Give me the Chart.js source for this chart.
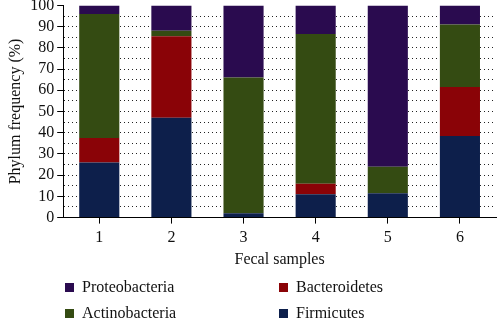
<!DOCTYPE html>
<html>
<head>
<meta charset="utf-8">
<script src="https://cdn.jsdelivr.net/npm/chart.js@4"></script>
<style>
  body { margin: 0; background: #fff; }
  #wrap { position: relative; width: 499px; height: 320px; }
  #legend { position: absolute; left: 0; top: 0; width: 499px; height: 320px; pointer-events: none;
    font-family: "Liberation Serif", serif; font-size: 16px; color: #111; }
  .item { position: absolute; height: 20px; line-height: 20px; white-space: nowrap; }
  .box { position: absolute; left: 0; top: 6px; width: 9px; height: 9px; }
  .txt { position: absolute; left: 17px; top: 0; }
</style>
</head>
<body>
<div id="wrap">
  <canvas id="myChart" width="499" height="320"></canvas>
  <div id="legend"></div>
</div>
<script>
const samples = ["1", "2", "3", "4", "5", "6"];
const firmicutes = [26, 47, 2, 11, 11.5, 38.5];
const bacteroidetes = [11.5, 38.5, 0, 5, 0, 23];
const actinobacteria = [58.5, 2.5, 64, 70.5, 12.5, 29.5];
const proteobacteria = [4, 12, 34, 13.5, 76, 9];

const colors = {
  Proteobacteria: "#2a0b4f",
  Bacteroidetes: "#8a0307",
  Actinobacteria: "#344b12",
  Firmicutes: "#0d1f4b",
};

const serif = '"Liberation Serif", serif';

var ctx = document.getElementById("myChart");
const myChart = new Chart(ctx, {
  type: "bar",
  data: {
    labels: samples,
    datasets: [
      { label: "Firmicutes", data: firmicutes, backgroundColor: colors.Firmicutes },
      { label: "Bacteroidetes", data: bacteroidetes, backgroundColor: colors.Bacteroidetes },
      { label: "Actinobacteria", data: actinobacteria, backgroundColor: colors.Actinobacteria },
      { label: "Proteobacteria", data: proteobacteria, backgroundColor: colors.Proteobacteria },
    ],
  },
  options: {
    responsive: false,
    animation: false,
    layout: { padding: { top: 0, right: 3, bottom: 51, left: 2 } },
    datasets: { bar: { barPercentage: 0.556, categoryPercentage: 1, borderWidth: 0 } },
    plugins: { legend: { display: false }, tooltip: { enabled: false } },
    scales: {
      x: {
        stacked: true,
        border: { color: "#000", width: 1 },
        grid: { drawOnChartArea: false, offset: false, tickLength: 6, tickColor: "#000" },
        ticks: { color: "#111", font: { family: serif, size: 16 }, padding: 5 },
        title: { display: true, text: "Fecal samples", color: "#111", font: { family: serif, size: 16 }, padding: { top: -3, bottom: 0 } },
      },
      y: {
        stacked: true,
        min: 0,
        max: 100,
        border: { color: "#000", width: 1, dash: [1, 3] },
        grid: {
          color: (c) => (c.tick.value === 0 || c.tick.value === 100 ? "rgba(0,0,0,0)" : "#222"),
          tickBorderDash: [],
          tickLength: 6,
          tickColor: (c) => (c.tick.value % 10 === 0 ? "#000" : "rgba(0,0,0,0)"),
        },
        ticks: {
          stepSize: 5,
          autoSkip: false,
          color: "#111",
          padding: 3,
          font: { family: serif, size: 16, lineHeight: 0.3 },
          callback: (v) => (v % 10 === 0 ? v : ""),
        },
        title: { display: true, text: "Phylum frequency (%)", color: "#111", font: { family: serif, size: 16 }, padding: { bottom: 2 } },
      },
    },
  },
});

// legend laid out in two columns like the figure
const legendOrder = ["Proteobacteria", "Bacteroidetes", "Actinobacteria", "Firmicutes"];
const legendPos = [[65, 277], [279, 277], [65, 303], [279, 303]];
const legend = document.getElementById("legend");
legendOrder.forEach(function (name, i) {
  const item = document.createElement("div");
  item.className = "item";
  item.style.left = legendPos[i][0] + "px";
  item.style.top = legendPos[i][1] + "px";
  item.innerHTML = '<span class="box" style="background:' + colors[name] + '"></span><span class="txt">' + name + "</span>";
  legend.appendChild(item);
});
</script>
</body>
</html>
